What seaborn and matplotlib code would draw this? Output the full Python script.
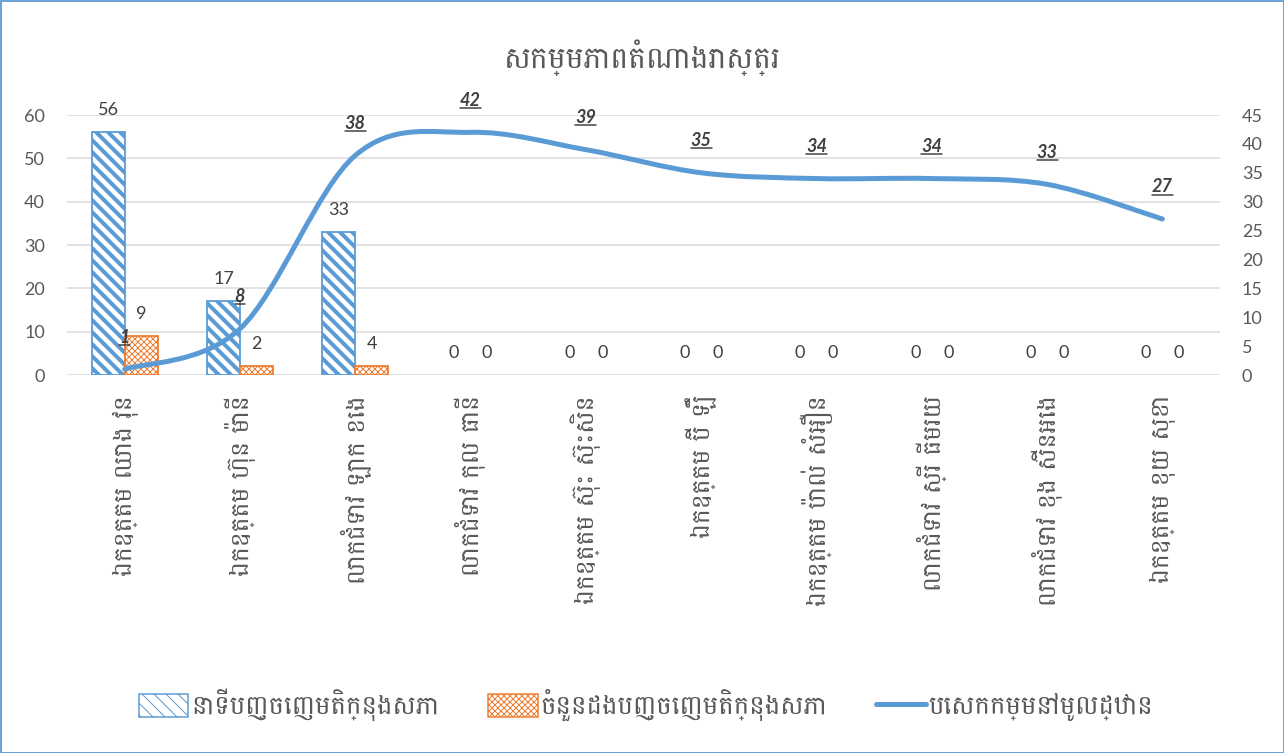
import numpy as np
import pandas as pd
import matplotlib
matplotlib.use("Agg")
import matplotlib.pyplot as plt
import matplotlib.path as mpath
import matplotlib.patches as mpatches
from matplotlib.lines import Line2D
from matplotlib import font_manager as fm
from matplotlib.ft2font import FT2Font
import seaborn as sns

# ---------------- data ----------------
title = "សកម្មភាពតំណាងរាស្ត្រ"
names = [
    "ឯកឧត្តម ឈាង វុន",
    "ឯកឧត្តម ហ៊ុន ម៉ានី",
    "លោកជំទាវ ឡោក ខេង",
    "លោកជំទាវ កុល ធានី",
    "ឯកឧត្តម ស៊ុះ ស៊ុះសិន",
    "ឯកឧត្តម ប៊ី ឡឹំ",
    "ឯកឧត្តម ប៉ាល់ សំអឿន",
    "លោកជំទាវ ស្រី ធីមរយ",
    "លោកជំទាវ ខុង ស៊ីនអេង",
    "ឯកឧត្តម ខុយ សុខា",
]
series_names = ["នាទីបញ្ចេញមតិក្នុងសភា", "ចំនួនដងបញ្ចេញមតិក្នុងសភា", "បេសកកម្មនៅមូលដ្ឋាន"]
minutes = [56, 17, 33, 0, 0, 0, 0, 0, 0, 0]
times = [9, 2, 2, 0, 0, 0, 0, 0, 0, 0]
times_labels = ["9", "2", "4", "0", "0", "0", "0", "0", "0", "0"]
missions = [1, 8, 38, 42, 39, 35, 34, 34, 33, 27]
left_ticks = [0, 10, 20, 30, 40, 50, 60]
right_ticks = [0, 5, 10, 15, 20, 25, 30, 35, 40, 45]

# ---------------- fonts ----------------
cands = []
for path in fm.findSystemFonts():
    try:
        f = FT2Font(path)
        if 0x1780 in f.get_charmap():
            cands.append(fm.FontProperties(fname=path).get_name())
    except Exception:
        pass
khmer_font = None
for pref in ["Battambang", "Khmer", "Hanuman", "Noto Sans Khmer"]:
    if pref in cands:
        khmer_font = pref
        break
if khmer_font is None and cands:
    khmer_font = cands[0]

sns.set_theme(style="white")
num_family = ["Lato", "DejaVu Sans"]
kh_family = ([khmer_font] if khmer_font else []) + ["Lato", "DejaVu Sans"]
plt.rcParams["font.family"] = kh_family

BLUE = "#5B9BD5"
ORANGE = "#ED7D31"
GRAY = "#595959"
DARK = "#404040"

W, H, DPI = 1284, 753, 72
fig = plt.figure(figsize=(W / DPI, H / DPI), dpi=DPI)
fig.patch.set_facecolor("white")
fig.patch.set_edgecolor("#6FA3D8")
fig.patch.set_linewidth(3)

ax = fig.add_axes([67 / W, 1 - 375 / H, (1220 - 67) / W, (375 - 115) / H])

df = pd.DataFrame({
    "name": names * 2,
    "value": minutes + times,
    "series": [series_names[0]] * len(names) + [series_names[1]] * len(names),
})
sns.barplot(data=df, x="name", y="value", hue="series", order=names,
            hue_order=series_names[:2], palette=[BLUE, ORANGE], width=0.572,
            gap=0, saturation=1, legend=False, ax=ax, errorbar=None)

BH = "\\\\"
OH = "xxxx"
hatch_specs = [(BLUE, BH, 4.0), (ORANGE, OH, 1.0)]
for cont, (col, hatch, hlw) in zip(ax.containers, hatch_specs):
    for p in cont:
        p.set_facecolor("white")
        p.set_edgecolor(col)
        p.set_hatch(hatch)
        p.set_linewidth(1.8 if p.get_height() > 0 else 0)
        if hasattr(p, "set_hatch_linewidth"):
            p.set_hatch_linewidth(hlw)

ax.bar_label(ax.containers[0], labels=[str(v) for v in minutes], padding=14,
             fontsize=18, color=DARK, family=num_family)
ax.bar_label(ax.containers[1], labels=times_labels, padding=14,
             fontsize=18, color=DARK, family=num_family)

ax.set_ylim(0, 60)
ax.set_yticks(left_ticks)
ax.set_xlim(-0.5, len(names) - 0.5)
ax.grid(axis="y", color="#D9D9D9", linewidth=1.5)
ax.set_axisbelow(True)
for s in ax.spines.values():
    s.set_visible(False)
ax.set_xlabel("")
ax.set_ylabel("")
ax.tick_params(axis="both", length=0)
ax.tick_params(axis="y", pad=22, labelsize=18, labelcolor=GRAY)
for t in ax.get_yticklabels():
    t.set_family(num_family)
ax.tick_params(axis="x", pad=20, labelsize=25, labelcolor=GRAY)
for t in ax.get_xticklabels():
    t.set_rotation(90)
    t.set_va("top")
    t.set_ha("center")
    t.set_family(kh_family)

# secondary axis with smoothed line
ax2 = ax.twinx()
ax2.set_ylim(0, 45)
ax2.set_yticks(right_ticks)
for s in ax2.spines.values():
    s.set_visible(False)
ax2.tick_params(axis="y", length=0, pad=22, labelsize=18, labelcolor=GRAY)
for t in ax2.get_yticklabels():
    t.set_family(num_family)
ax2.grid(False)

xs = np.arange(len(missions), dtype=float)
ys = np.array(missions, dtype=float)
pts = np.column_stack([xs, ys])
verts = [pts[0]]
codes = [mpath.Path.MOVETO]
n = len(pts)
for i in range(n - 1):
    p0 = pts[i - 1] if i > 0 else pts[i]
    p1 = pts[i]
    p2 = pts[i + 1]
    p3 = pts[i + 2] if i + 2 < n else pts[i + 1]
    c1 = p1 + (p2 - p0) / 6.0
    c2 = p2 - (p3 - p1) / 6.0
    verts += [c1, c2, p2]
    codes += [mpath.Path.CURVE4] * 3
path = mpath.Path(verts, codes)
ax2.add_patch(mpatches.PathPatch(path, facecolor="none", edgecolor=BLUE,
                                 linewidth=5, capstyle="round", joinstyle="round",
                                 zorder=3))

line_texts = []
for i, v in enumerate(missions):
    line_texts.append(ax2.annotate(str(v), (i, v), xytext=(0, 32), textcoords="offset points",
                                   ha="center", va="center", fontsize=18, color=DARK,
                                   style="italic", weight="bold", family=num_family, zorder=5))

# title
fig.text(0.5, 1 - 58 / H, title, ha="center", va="center", fontsize=30, color=GRAY,
         family=kh_family)

# legend
h1 = mpatches.Patch(facecolor="white", edgecolor=BLUE, hatch=BH, linewidth=1.5)
h2 = mpatches.Patch(facecolor="white", edgecolor=ORANGE, hatch=OH, linewidth=1.5)
if hasattr(h1, "set_hatch_linewidth"):
    h1.set_hatch_linewidth(4.0)
    h2.set_hatch_linewidth(1.0)
h3 = Line2D([0], [0], color=BLUE, linewidth=5, solid_capstyle="round")
leg = fig.legend([h1, h2, h3], series_names, loc="center", bbox_to_anchor=(646 / W, 1 - 705 / H),
                 ncol=3, frameon=False, handlelength=1.9, handleheight=1.0,
                 handletextpad=0.1, columnspacing=1.9, labelcolor=GRAY,
                 prop={"family": kh_family, "size": 26})

fig.canvas.draw()
r = fig.canvas.get_renderer()
for t in line_texts:
    bb = t.get_window_extent(r)
    fig.add_artist(Line2D([bb.x0 / W, bb.x1 / W], [(bb.y0 + 1) / H, (bb.y0 + 1) / H],
                          color=DARK, linewidth=1.5, transform=fig.transFigure))

fig.savefig("out.png", dpi=DPI, facecolor="white", edgecolor=fig.patch.get_edgecolor())
